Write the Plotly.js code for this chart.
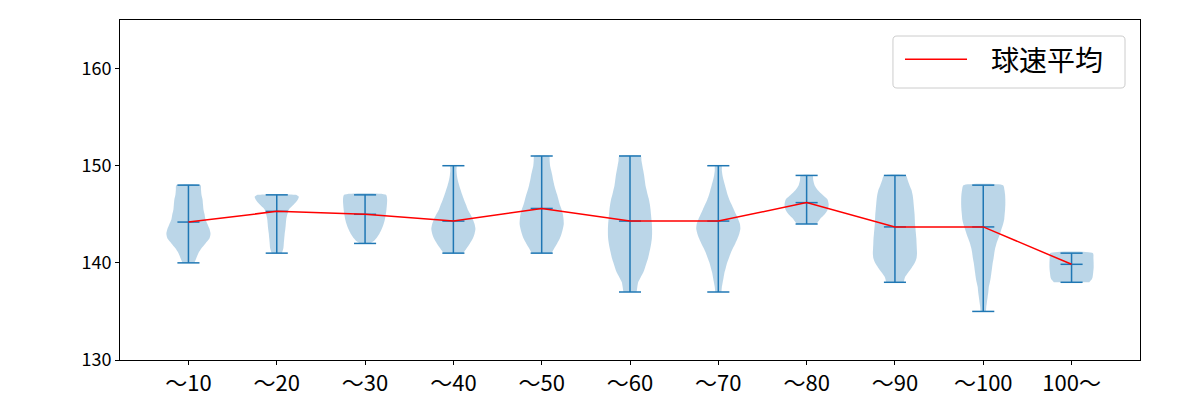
<!DOCTYPE html>
<html>
<head>
<meta charset="utf-8">
<script src="https://cdn.plot.ly/plotly-3.0.1.min.js"></script>
<style>html,body{margin:0;padding:0;background:#fff;}#chart{width:1200px;height:400px;}</style>
</head>
<body>
<div id="chart"></div>
<script>
// Categories (x tick labels)
const categories = ["〜10", "〜20", "〜30", "〜40", "〜50", "〜60", "〜70", "〜80", "〜90", "〜100", "100〜"];
// Min / max / mean pitch speed per category (km/h)
const minSpeed  = [140, 141, 142, 141, 141, 137, 137, 144, 138, 135, 138];
const maxSpeed  = [148, 147, 147, 150, 151, 151, 150, 149, 149, 148, 141];
const meanSpeed = [144.2, 145.3, 145.0, 144.3, 145.6, 144.3, 144.3, 146.2, 143.7, 143.7, 139.85];
const legendLabel = "球速平均";
const yTicks = [130, 140, 150, 160];

// Violin outlines: speed levels and relative half-widths (1 = widest)
const v1_y = [140, 140.5, 141, 141.5, 142, 142.5, 143, 143.5, 144, 144.5, 145, 145.5, 146, 146.5, 147, 147.5, 148];
const v1_w = [0.27, 0.36, 0.45, 0.59, 0.77, 0.95, 1, 0.95, 0.86, 0.77, 0.73, 0.68, 0.66, 0.64, 0.59, 0.57, 0.55];
const v2_y = [141, 141.5, 142, 142.5, 143, 143.5, 144, 144.5, 145, 145.5, 146, 146.5, 146.8, 147];
const v2_w = [0.23, 0.3, 0.32, 0.34, 0.36, 0.39, 0.41, 0.43, 0.48, 0.55, 0.77, 0.95, 1, 0.86];
const v3_y = [142, 142.25, 142.5, 143, 143.5, 144, 144.5, 145, 145.5, 146, 146.5, 147];
const v3_w = [0.23, 0.4, 0.5, 0.65, 0.76, 0.84, 0.9, 0.94, 0.97, 0.99, 1, 0.95];
const v4_y = [141, 141.5, 142, 142.5, 143, 143.5, 144, 144.5, 145, 145.5, 146, 146.5, 147, 147.5, 148, 148.5, 149, 149.5, 150];
const v4_w = [0.45, 0.6, 0.75, 0.88, 0.96, 1, 0.96, 0.88, 0.77, 0.65, 0.57, 0.48, 0.4, 0.33, 0.26, 0.2, 0.16, 0.14, 0.14];
const v5_y = [141, 141.5, 142, 142.5, 143, 143.5, 144, 144.5, 145, 145.5, 146, 146.5, 147, 147.5, 148, 148.5, 149, 149.5, 150, 150.5, 151];
const v5_w = [0.45, 0.57, 0.7, 0.82, 0.9, 0.96, 1, 0.99, 0.96, 0.9, 0.82, 0.76, 0.7, 0.63, 0.57, 0.52, 0.48, 0.43, 0.38, 0.36, 0.34];
const v6_y = [137, 137.5, 138, 138.5, 139, 139.5, 140, 140.5, 141, 141.5, 142, 142.5, 143, 143.5, 144, 144.5, 145, 145.5, 146, 146.5, 147, 147.5, 148, 148.5, 149, 149.5, 150, 150.5, 151];
const v6_w = [0.3, 0.33, 0.37, 0.48, 0.6, 0.68, 0.75, 0.82, 0.87, 0.92, 0.96, 0.99, 1, 1, 0.99, 0.97, 0.95, 0.93, 0.9, 0.86, 0.8, 0.75, 0.7, 0.67, 0.64, 0.6, 0.56, 0.52, 0.49];
const v7_y = [137, 137.5, 138, 138.5, 139, 139.5, 140, 140.5, 141, 141.5, 142, 142.5, 143, 143.5, 144, 144.5, 145, 145.5, 146, 146.5, 147, 147.5, 148, 148.5, 149, 149.5, 150];
const v7_w = [0.14, 0.16, 0.2, 0.24, 0.28, 0.34, 0.4, 0.48, 0.56, 0.66, 0.77, 0.87, 0.95, 1, 0.98, 0.9, 0.8, 0.7, 0.6, 0.5, 0.42, 0.36, 0.3, 0.24, 0.19, 0.16, 0.15];
const v8_y = [144, 144.5, 145, 145.5, 146, 146.5, 147, 147.5, 148, 148.5, 149];
const v8_w = [0.45, 0.6, 0.82, 0.96, 1, 0.95, 0.72, 0.5, 0.36, 0.3, 0.27];
const v9_y = [138, 138.5, 139, 139.5, 140, 140.5, 141, 141.5, 142, 142.5, 143, 143.5, 144, 144.5, 145, 145.5, 146, 146.5, 147, 147.5, 148, 148.5, 149];
const v9_w = [0.4, 0.45, 0.6, 0.76, 0.9, 0.98, 1, 0.99, 0.98, 0.97, 0.95, 0.93, 0.91, 0.9, 0.89, 0.87, 0.85, 0.83, 0.8, 0.75, 0.66, 0.58, 0.5];
const v10_y = [135, 135.5, 136, 136.5, 137, 137.5, 138, 138.5, 139, 139.5, 140, 140.5, 141, 141.5, 142, 142.5, 143, 143.5, 144, 144.5, 145, 145.5, 146, 146.5, 147, 147.5, 148];
const v10_w = [0.12, 0.14, 0.17, 0.2, 0.23, 0.25, 0.3, 0.34, 0.37, 0.4, 0.43, 0.47, 0.5, 0.54, 0.6, 0.68, 0.76, 0.83, 0.9, 0.95, 0.97, 0.99, 1, 1, 0.99, 0.96, 0.9];
const v11_y = [138, 138.25, 138.5, 139, 139.5, 140, 140.5, 141];
const v11_w = [0.8, 0.9, 0.95, 0.98, 1, 1, 0.99, 0.97];

const violinY = [v1_y, v2_y, v3_y, v4_y, v5_y, v6_y, v7_y, v8_y, v9_y, v10_y, v11_y];
const violinW = [v1_w, v2_w, v3_w, v4_w, v5_w, v6_w, v7_w, v8_w, v9_w, v10_w, v11_w];

const HALF = 0.25;   // max half-width of a violin (x units)
const CAP = 0.125;   // half-length of caps / mean ticks
const blue = '#1f77b4';

const traces = [];
categories.forEach((c, i) => {
  const pos = i + 1;
  const ys = violinY[i], ws = violinW[i];
  const xs = [], yy = [];
  for (let k = 0; k < ys.length; k++) { xs.push(pos + ws[k] * HALF); yy.push(ys[k]); }
  for (let k = ys.length - 1; k >= 0; k--) { xs.push(pos - ws[k] * HALF); yy.push(ys[k]); }
  traces.push({
    type: 'scatter', mode: 'lines', x: xs, y: yy, fill: 'toself',
    fillcolor: 'rgba(31,119,180,0.3)', line: {width: 0, shape: 'spline', smoothing: 0.6},
    hoverinfo: 'skip', showlegend: false
  });
});

// whiskers, caps and mean ticks
const lx = [], ly = [];
categories.forEach((c, i) => {
  const pos = i + 1;
  lx.push(pos, pos, null); ly.push(minSpeed[i], maxSpeed[i], null);
  lx.push(pos - CAP, pos + CAP, null); ly.push(minSpeed[i], minSpeed[i], null);
  lx.push(pos - CAP, pos + CAP, null); ly.push(maxSpeed[i], maxSpeed[i], null);
  lx.push(pos - CAP, pos + CAP, null); ly.push(meanSpeed[i], meanSpeed[i], null);
});
traces.push({type: 'scatter', mode: 'lines', x: lx, y: ly, line: {color: blue, width: 1.5},
  hoverinfo: 'skip', showlegend: false, connectgaps: false});

traces.push({
  type: 'scatter', mode: 'lines', name: legendLabel,
  x: categories.map((c, i) => i + 1), y: meanSpeed,
  line: {color: '#ff0000', width: 1.5}, showlegend: false
});

const jp = '"Noto Sans CJK JP", "Noto Sans", sans-serif';

// legend box drawn in paper coordinates (matplotlib style, rounded corners)
const bx0 = 0.7578, bx1 = 0.9853, by0 = 0.80, by1 = 0.9529, rx = 0.0039, ry = 0.0118;
const boxPath = `M${bx0+rx},${by0} L${bx1-rx},${by0} Q${bx1},${by0} ${bx1},${by0+ry} L${bx1},${by1-ry} Q${bx1},${by1} ${bx1-rx},${by1} L${bx0+rx},${by1} Q${bx0},${by1} ${bx0},${by1-ry} L${bx0},${by0+ry} Q${bx0},${by0} ${bx0+rx},${by0} Z`;

const layout = {
  width: 1200, height: 400,
  margin: {l: 120, r: 60, t: 20, b: 40},
  paper_bgcolor: '#fff', plot_bgcolor: '#fff',
  font: {family: jp, size: 16, color: '#000'},
  showlegend: false,
  shapes: [
    {type: 'path', xref: 'paper', yref: 'paper', path: boxPath,
     fillcolor: 'rgba(255,255,255,0.8)', line: {color: '#cccccc', width: 1}},
    {type: 'line', xref: 'paper', yref: 'paper', x0: 0.7696, x1: 0.8304, y0: 0.8844, y1: 0.8844,
     line: {color: '#ff0000', width: 1.5}}
  ],
  annotations: [
    {xref: 'paper', yref: 'paper', x: 0.8520, y: 0.8844, xanchor: 'left', yanchor: 'middle',
     text: legendLabel, showarrow: false, font: {family: jp, size: 28, color: '#000'}}
  ],
  xaxis: {
    range: [0.225, 11.775], tickmode: 'array',
    tickvals: categories.map((c, i) => i + 1), ticktext: categories,
    showgrid: false, zeroline: false, showline: true, linecolor: '#000', linewidth: 1,
    mirror: true, ticks: 'outside', ticklen: 4, tickcolor: '#000', tickwidth: 1,
    tickfont: {family: jp, size: 22}
  },
  yaxis: {
    range: [130, 165], tickmode: 'array', tickvals: yTicks,
    showgrid: false, zeroline: false, showline: true, linecolor: '#000', linewidth: 1,
    mirror: true, ticks: 'outside', ticklen: 4, tickcolor: '#000', tickwidth: 1,
    tickfont: {family: jp, size: 18}
  }
};

Plotly.newPlot('chart', traces, layout, {displayModeBar: false, staticPlot: true});
</script>
</body>
</html>
